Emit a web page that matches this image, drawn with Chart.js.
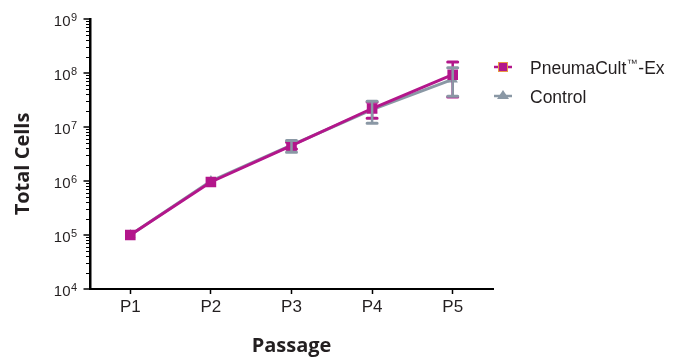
<!DOCTYPE html>
<html>
<head>
<meta charset="utf-8">
<script src="https://cdn.jsdelivr.net/npm/chart.js@4/dist/chart.umd.min.js"></script>
<style>
  html, body { margin: 0; padding: 0; background: #ffffff; }
  #wrap { width: 675px; height: 358px; position: relative; }
</style>
</head>
<body>
<div id="wrap"><canvas id="c" width="675" height="358"></canvas></div>
<script>
// ---- data ----
const passages = ['P1', 'P2', 'P3', 'P4', 'P5'];
const pneumaCult = [1.0e5, 9.6e5, 4.5e6, 2.2e7, 9.3e7];
const pneumaCultHigh = [null, null, 5.2e6, 2.9e7, 1.6e8];
const pneumaCultLow = [null, null, 3.9e6, 1.45e7, 3.6e7];
const control = [1.0e5, 1.0e6, 4.6e6, 2.1e7, 7.6e7];
const controlHigh = [null, null, 5.6e6, 3.0e7, 1.25e8];
const controlLow = [null, null, 3.4e6, 1.17e7, 3.7e7];
const yTickExponents = [4, 5, 6, 7, 8, 9];
const legendParts = [['PneumaCult', '\u2122', '-Ex'], ['Control', '', '']];
const seriesNames = ['PneumaCult\u2122-Ex', 'Control'];
const xTitle = 'Passage';
const yTitle = 'Total Cells';

const MAGENTA = '#b3168b';
const GRAY = '#8a98a5';
const ORANGE = '#e99a45';
const TEXT = '#231f20';
const BODY_FONT = '"Liberation Sans", Arial, sans-serif';
const TITLE_FONT = '"Open Sans", "DejaVu Sans", sans-serif';

const errorSets = [
  { ds: 0, high: pneumaCultHigh, low: pneumaCultLow, color: MAGENTA },
  { ds: 1, high: controlHigh, low: controlLow, color: GRAY }
];

const errorBarPlugin = {
  id: 'errorBars',
  afterDatasetsDraw(chart) {
    const ctx = chart.ctx;
    const x = chart.scales.x, y = chart.scales.y;
    ctx.save();
    errorSets.forEach(set => {
      ctx.strokeStyle = set.color;
      set.high.forEach((hi, i) => {
        const lo = set.low[i];
        if (hi == null || lo == null) return;
        const px = x.getPixelForValue(i);
        const py1 = y.getPixelForValue(hi);
        const py2 = y.getPixelForValue(lo);
        ctx.lineWidth = 2.5;
        ctx.beginPath();
        ctx.moveTo(px, py1); ctx.lineTo(px, py2);
        ctx.stroke();
        ctx.lineWidth = 3;
        ctx.lineCap = 'round';
        ctx.beginPath();
        ctx.moveTo(px - 5, py1); ctx.lineTo(px + 5, py1);
        ctx.moveTo(px - 5, py2); ctx.lineTo(px + 5, py2);
        ctx.stroke();
        ctx.lineCap = 'butt';
      });
    });
    ctx.restore();
  }
};

const axisDecorPlugin = {
  id: 'axisDecor',
  afterDraw(chart) {
    const ctx = chart.ctx;
    const y = chart.scales.y;
    const left = chart.chartArea.left;
    ctx.save();
    ctx.strokeStyle = '#000';
    // minor ticks on log axis
    ctx.lineWidth = 1;
    for (let e = yTickExponents[0]; e < yTickExponents[yTickExponents.length - 1]; e++) {
      for (let m = 2; m <= 9; m++) {
        const py = Math.round(y.getPixelForValue(m * Math.pow(10, e))) + 0.5;
        ctx.beginPath();
        ctx.moveTo(left - 4, py); ctx.lineTo(left, py);
        ctx.stroke();
      }
    }
    // major ticks
    ctx.lineWidth = 1.5;
    yTickExponents.forEach(e => {
      const py = y.getPixelForValue(Math.pow(10, e));
      ctx.beginPath();
      ctx.moveTo(left - 6.5, py); ctx.lineTo(left, py);
      ctx.stroke();
    });
    // y tick labels: 10 with superscript exponent
    ctx.fillStyle = TEXT;
    ctx.textBaseline = 'alphabetic';
    yTickExponents.forEach(e => {
      const py = y.getPixelForValue(Math.pow(10, e));
      ctx.font = '15px ' + BODY_FONT;
      ctx.textAlign = 'right';
      ctx.fillText('10', 70.5, py + 6.5);
      ctx.font = '11px ' + BODY_FONT;
      ctx.textAlign = 'left';
      ctx.fillText(String(e), 71, py + 1.5);
    });
    // y axis title
    ctx.save();
    ctx.font = 'bold 20px ' + TITLE_FONT;
    ctx.textAlign = 'center';
    ctx.textBaseline = 'middle';
    ctx.translate(23, 164);
    ctx.rotate(-Math.PI / 2);
    ctx.fillText(yTitle, 0, 0);
    ctx.restore();
    // legend
    const items = [
      { parts: legendParts[0], color: MAGENTA, style: 'rect', y: 67 },
      { parts: legendParts[1], color: GRAY, style: 'tri', y: 96 }
    ];
    items.forEach(it => {
      ctx.strokeStyle = it.color;
      ctx.lineWidth = 2.5;
      ctx.beginPath();
      ctx.moveTo(494, it.y); ctx.lineTo(512, it.y);
      ctx.stroke();
      if (it.style === 'rect') {
        ctx.fillStyle = it.color;
        ctx.fillRect(498, it.y - 5, 10, 10);
        ctx.strokeStyle = ORANGE;
        ctx.lineWidth = 1;
        ctx.strokeRect(498.5, it.y - 4.5, 9, 9);
      } else {
        ctx.fillStyle = it.color;
        ctx.beginPath();
        ctx.moveTo(503, it.y - 6);
        ctx.lineTo(509, it.y + 3);
        ctx.lineTo(497, it.y + 3);
        ctx.closePath();
        ctx.fill();
      }
      ctx.fillStyle = TEXT;
      ctx.textAlign = 'left';
      ctx.textBaseline = 'alphabetic';
      const base = it.y + 6.5;
      let tx = 530;
      ctx.font = '17.5px ' + BODY_FONT;
      ctx.fillText(it.parts[0], tx, base);
      tx += ctx.measureText(it.parts[0]).width + 0.5;
      if (it.parts[1]) {
        ctx.font = '11px ' + BODY_FONT;
        ctx.fillText(it.parts[1], tx, base - 7);
        tx += ctx.measureText(it.parts[1]).width + 0.5;
      }
      if (it.parts[2]) {
        ctx.font = '17.5px ' + BODY_FONT;
        ctx.fillText(it.parts[2], tx, base);
      }
    });
    ctx.restore();
  }
};

new Chart(document.getElementById('c'), {
  type: 'line',
  data: {
    labels: passages,
    datasets: [
      {
        label: seriesNames[0],
        data: pneumaCult,
        borderColor: MAGENTA,
        backgroundColor: MAGENTA,
        borderWidth: 3,
        pointStyle: 'rect',
        pointRadius: 7.5,
        pointBorderWidth: 0,
        pointBackgroundColor: MAGENTA,
        tension: 0
      },
      {
        label: seriesNames[1],
        data: control,
        borderColor: GRAY,
        backgroundColor: GRAY,
        borderWidth: 3,
        pointStyle: 'triangle',
        pointRadius: 6,
        pointBorderWidth: 0,
        pointBackgroundColor: GRAY,
        tension: 0
      }
    ]
  },
  options: {
    responsive: false,
    animation: false,
    layout: { padding: { left: 0, top: 19, right: 182, bottom: 0 } },
    plugins: {
      legend: { display: false },
      tooltip: { enabled: false }
    },
    scales: {
      x: {
        type: 'category',
        offset: true,
        grid: {
          offset: false,
          drawOnChartArea: false,
          drawTicks: true,
          tickLength: 5,
          tickColor: '#000',
          tickWidth: 1.5
        },
        border: { display: true, color: '#000', width: 2 },
        ticks: {
          color: TEXT,
          font: { family: BODY_FONT, size: 17 },
          padding: 3,
          maxRotation: 0
        },
        title: {
          display: true,
          text: xTitle,
          color: TEXT,
          font: { family: TITLE_FONT, size: 20, weight: 'bold' },
          padding: { top: 0, bottom: 0 }
        },
        afterFit(scale) { scale.height = 69; }
      },
      y: {
        type: 'logarithmic',
        min: 1e4,
        max: 1e9,
        afterBuildTicks(scale) {
          scale.ticks = yTickExponents.map(e => ({ value: Math.pow(10, e), major: true }));
        },
        grid: {
          drawOnChartArea: false,
          drawTicks: false
        },
        border: { display: true, color: '#000', width: 2.5 },
        ticks: { display: false },
        title: { display: false },
        afterFit(scale) { scale.width = 90; }
      }
    }
  },
  plugins: [errorBarPlugin, axisDecorPlugin]
});
</script>
</body>
</html>
